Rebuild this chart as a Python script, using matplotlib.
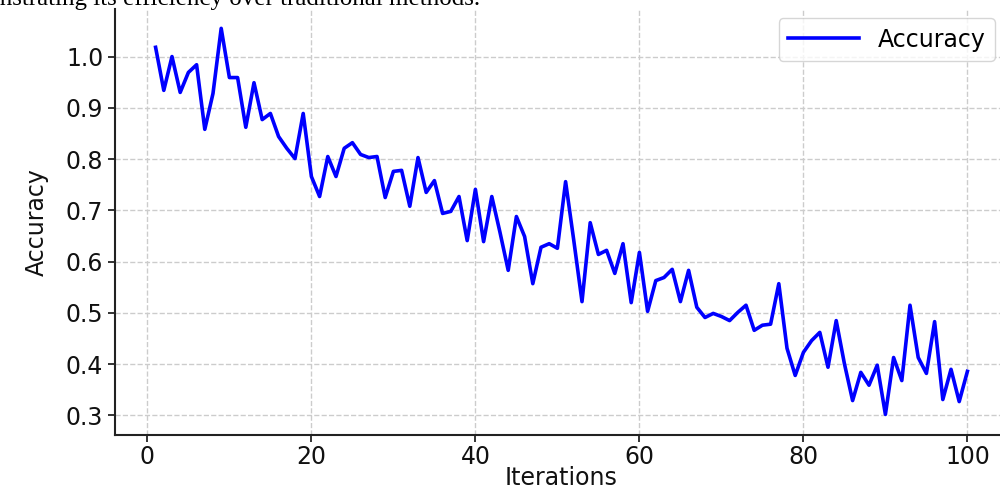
import matplotlib
matplotlib.use("Agg")
import matplotlib.pyplot as plt

# accuracy per iteration
iterations = list(range(1, 101))
accuracy = [
    1.018, 0.934, 1.000, 0.930, 0.969, 0.984, 0.858, 0.928, 1.055, 0.959,
    0.959, 0.862, 0.949, 0.877, 0.889, 0.844, 0.821, 0.801, 0.889, 0.766,
    0.727, 0.805, 0.766, 0.821, 0.832, 0.809, 0.803, 0.805, 0.725, 0.776,
    0.778, 0.708, 0.803, 0.735, 0.758, 0.694, 0.698, 0.727, 0.641, 0.741,
    0.639, 0.727, 0.657, 0.583, 0.688, 0.649, 0.557, 0.628, 0.635, 0.626,
    0.756, 0.641, 0.522, 0.676, 0.614, 0.622, 0.577, 0.635, 0.520, 0.618,
    0.503, 0.563, 0.569, 0.585, 0.522, 0.583, 0.511, 0.491, 0.499, 0.493,
    0.485, 0.501, 0.515, 0.466, 0.476, 0.478, 0.557, 0.431, 0.378, 0.423,
    0.446, 0.462, 0.394, 0.485, 0.401, 0.329, 0.384, 0.359, 0.398, 0.302,
    0.413, 0.368, 0.515, 0.413, 0.382, 0.483, 0.331, 0.390, 0.327, 0.386,
]
x_ticks = [0, 20, 40, 60, 80, 100]
y_ticks = [0.3, 0.4, 0.5, 0.6, 0.7, 0.8, 0.9, 1.0]

fig = plt.figure(figsize=(10, 4.92), dpi=100)
ax = fig.add_axes([0.115, 0.116, 0.893, 0.866])

ax.plot(iterations, accuracy, color="#0000ff", linewidth=2.6, label="Accuracy")

ax.set_xlim(-3.95, 104.95)
ax.set_ylim(0.262, 1.093)
ax.set_xticks(x_ticks)
ax.set_yticks(y_ticks)
ax.set_yticklabels(["%.1f" % v for v in y_ticks])

ax.grid(True, linestyle="--", color="#cccccc", linewidth=1.0)
for side in ("top", "right"):
    ax.spines[side].set_visible(False)
for side in ("left", "bottom"):
    ax.spines[side].set_color("#222222")
    ax.spines[side].set_linewidth(1.5)
ax.tick_params(axis="both", labelsize=17, colors="#111111", length=5, width=1.2)
ax.tick_params(axis="x", pad=2)

ax.set_xlabel("Iterations", fontsize=17, color="#111111")
ax.xaxis.set_label_coords(0.5, -0.072)
ax.set_ylabel("Accuracy", fontsize=17, color="#111111", labelpad=12)

ax.legend(loc="upper right", bbox_to_anchor=(0.995, 0.963),
          bbox_transform=fig.transFigure, borderaxespad=0,
          fontsize=17, handlelength=3.0, edgecolor="#cccccc")

# caption line from the page, cut off at the top edge as in the reference
fig.text(0.48, 0.99, "demonstrating its efficiency over traditional methods.",
         ha="right", va="baseline", fontsize=18, family="Liberation Serif")

fig.savefig("out.png", dpi=100)
